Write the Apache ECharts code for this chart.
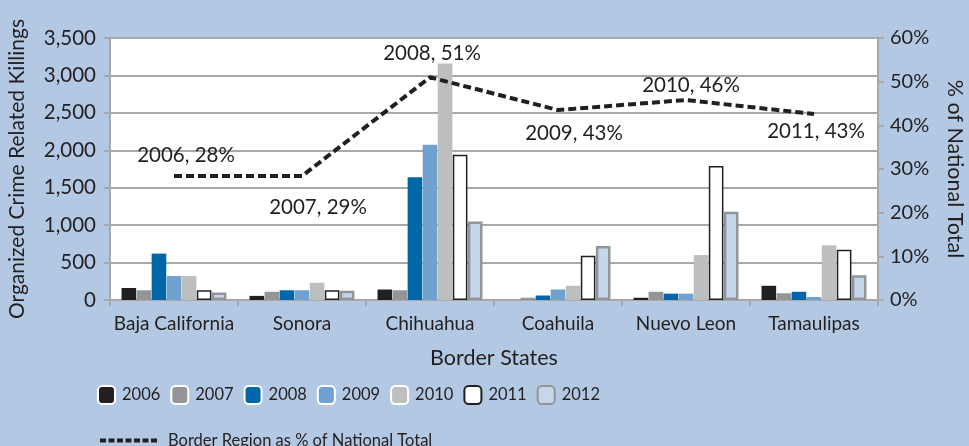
<!DOCTYPE html>
<html>
<head>
<meta charset="utf-8">
<script src="https://cdn.jsdelivr.net/npm/echarts@6/dist/echarts.min.js"></script>
<style>
  html, body { margin: 0; padding: 0; background: #b3c8e3; }
  #main { width: 969px; height: 446px; }
</style>
</head>
<body>
<div id="main"></div>
<script>
// categories
const states = ['Baja California', 'Sonora', 'Chihuahua', 'Coahuila', 'Nuevo Leon', 'Tamaulipas'];
const years = ['2006', '2007', '2008', '2009', '2010', '2011', '2012'];

// killings per year, one value per state
const k2006 = [160, 55, 140, 0, 30, 190];
const k2007 = [130, 110, 130, 30, 110, 90];
const k2008 = [620, 130, 1640, 60, 85, 110];
const k2009 = [320, 130, 2075, 140, 85, 40];
const k2010 = [320, 230, 3160, 190, 600, 730];
const k2011 = [130, 130, 1940, 590, 1790, 670];
const k2012 = [100, 125, 1050, 720, 1180, 330];

// border region share of national total (%)
const sharePct = [28.4, 28.4, 51, 43.5, 45.8, 42.6];
const shareLabels = ['2006, 28%', '2007, 29%', '2008, 51%', '2009, 43%', '2010, 46%', '2011, 43%'];

const leftTicks = [0, 3500, 500];
const rightTicks = [0, 60, 10];

const FONT = 'Lato';
const TXT = '#231f20';

const barStyles = [
  { color: '#231f20' },
  { color: '#939598' },
  { color: '#0068a9' },
  { color: '#70a1cf' },
  { color: '#bcbec0' },
  { color: '#ffffff', borderColor: '#231f20', borderWidth: 1.5 },
  { color: '#c6d7ec', borderColor: '#939598', borderWidth: 2.5 }
];
const barData = [k2006, k2007, k2008, k2009, k2010, k2011, k2012];

// label placement per point: [position, dx, dy]
const labelPos = [
  ['top', 12, -5],
  ['bottom', 16, 15],
  ['top', 2, -8],
  ['bottom', 16, 7],
  ['top', 5, 1],
  ['bottom', 2, 1]
];

const series = years.map((y, i) => ({
  name: y,
  type: 'bar',
  yAxisIndex: 0,
  barGap: '3%',
  barCategoryGap: '18%',
  itemStyle: barStyles[i],
  data: barData[i]
}));

series.push({
  name: 'Border Region as % of National Total',
  type: 'line',
  yAxisIndex: 1,
  symbol: 'circle',
  symbolSize: 1,
  showSymbol: true,
  z: 5,
  itemStyle: { color: 'rgba(0,0,0,0)' },
  lineStyle: { color: '#231f20', width: 4, type: [8, 4] },
  data: sharePct.map((v, i) => ({
    value: v,
    label: {
      show: true,
      position: labelPos[i][0],
      offset: [labelPos[i][1], labelPos[i][2]],
      formatter: shareLabels[i],
      color: TXT,
      fontFamily: FONT,
      fontSize: 20.5
    }
  }))
});

const chart = echarts.init(document.getElementById('main'));
chart.setOption({
  backgroundColor: '#b3c8e3',
  animation: false,
  textStyle: { fontFamily: FONT, color: TXT },
  grid: {
    left: 110, right: 91, top: 38, bottom: 146,
    outerBoundsMode: 'none',
    show: true, backgroundColor: '#ffffff', borderWidth: 0
  },
  legend: [
    {
      data: years.map((y, i) => i < 5
        ? { name: y, itemStyle: { borderColor: '#ffffff', borderWidth: 2 } }
        : { name: y }),
      left: 92, top: 380,
      itemWidth: 17, itemHeight: 18, itemGap: 10,
      textStyle: { fontFamily: FONT, fontSize: 16.5, color: TXT, padding: [0, 0, 0, 2] }
    },
    {
      data: [{
        name: 'Border Region as % of National Total',
        lineStyle: { color: '#231f20', width: 4, type: [6, 2.5] }
      }],
      left: 93, top: 427,
      itemWidth: 58, itemHeight: 16,
      textStyle: { fontFamily: FONT, fontSize: 16.5, color: TXT, padding: [0, 0, 0, 5] }
    }
  ],
  xAxis: {
    type: 'category',
    data: states,
    name: 'Border States',
    nameLocation: 'middle',
    nameGap: 47,
    nameTextStyle: { fontFamily: FONT, fontSize: 21.5, color: TXT },
    axisLine: { lineStyle: { color: '#a7a9ac', width: 2 } },
    axisTick: { show: true, length: 6, lineStyle: { color: '#a7a9ac', width: 2 } },
    axisLabel: { fontFamily: FONT, fontSize: 19, color: TXT, margin: 14, interval: 0 }
  },
  yAxis: [
    {
      type: 'value',
      min: leftTicks[0], max: leftTicks[1], interval: leftTicks[2],
      name: 'Organized Crime Related Killings',
      nameLocation: 'middle',
      nameRotate: 90,
      nameGap: 82,
      nameTextStyle: { fontFamily: FONT, fontSize: 21, color: TXT },
      axisLine: { show: true, lineStyle: { color: '#a7a9ac', width: 2 } },
      axisTick: { show: true, length: 6, lineStyle: { color: '#a7a9ac', width: 2 } },
      splitLine: { lineStyle: { color: '#a7a9ac', width: 2 } },
      axisLabel: {
        fontFamily: FONT, fontSize: 20.5, color: TXT, margin: 14,
        formatter: v => v.toLocaleString('en-US')
      }
    },
    {
      type: 'value',
      min: rightTicks[0], max: rightTicks[1], interval: rightTicks[2],
      name: '% of National Total',
      nameLocation: 'middle',
      nameRotate: -90,
      nameGap: 66,
      nameTextStyle: { fontFamily: FONT, fontSize: 21.5, color: TXT },
      axisLine: { show: true, lineStyle: { color: '#a7a9ac', width: 2 } },
      axisTick: { show: true, length: 6, lineStyle: { color: '#a7a9ac', width: 2 } },
      splitLine: { show: false },
      axisLabel: { fontFamily: FONT, fontSize: 20, color: TXT, margin: 12, formatter: '{value}%' }
    }
  ],
  series: series
});
</script>
</body>
</html>
